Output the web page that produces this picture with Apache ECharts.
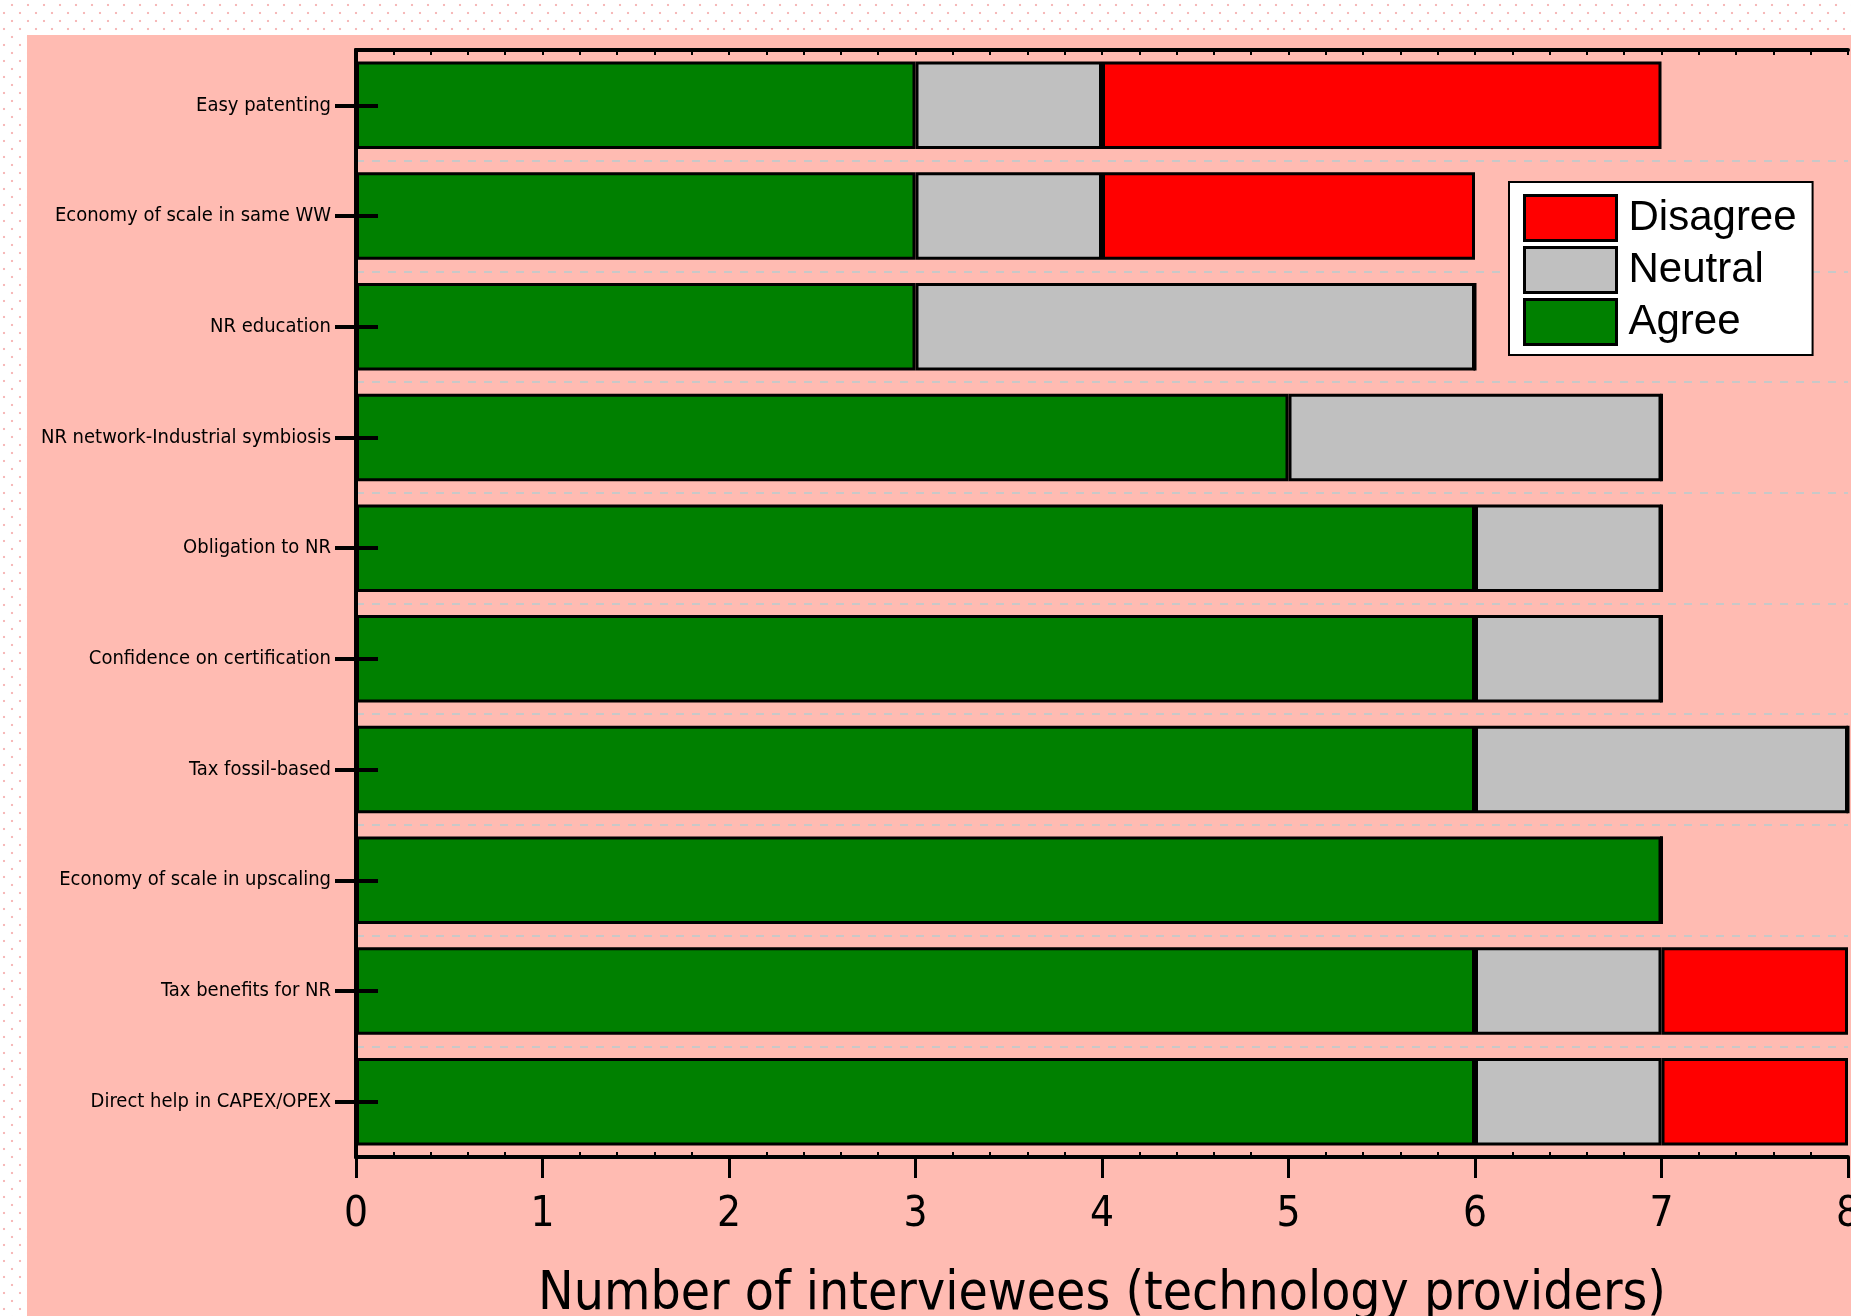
<!DOCTYPE html>
<html>
<head>
<meta charset="utf-8">
<title>Interviewees chart</title>
<script src="https://cdn.jsdelivr.net/npm/echarts@6/dist/echarts.min.js"></script>
<style>
    html, body {
        margin: 0;
        padding: 0;
        width: 1851px;
        height: 1316px;
        overflow: hidden;
        background-color: #ffffff;
        background-image: radial-gradient(circle, #f6b9b9 1px, transparent 1.6px),
                          radial-gradient(circle, #f6b9b9 1px, transparent 1.6px);
        background-size: 16px 16px, 16px 16px;
        background-position: -4px 5px, 4px 13px;
    }
    #chart {
        position: absolute;
        left: 27px;
        top: 35px;
        width: 1824px;
        height: 1281px;
        background: #ffbbb2;
    }
</style>
</head>
<body>
<div id="chart"></div>
<script>
    // categories, top to bottom
    var categories = [
        'Easy patenting',
        'Economy of scale in same WW',
        'NR education',
        'NR network-Industrial symbiosis',
        'Obligation to NR',
        'Confidence on certification',
        'Tax fossil-based',
        'Economy of scale in upscaling',
        'Tax benefits for NR',
        'Direct help in CAPEX/OPEX'
    ];
    var agree    = [3, 3, 3, 5, 6, 6, 6, 7, 6, 6];
    var neutral  = [1, 1, 3, 2, 1, 1, 2, 0, 1, 1];
    var disagree = [3, 2, 0, 0, 0, 0, 0, 0, 1, 1];
    var xTicks = ['0', '1', '2', '3', '4', '5', '6', '7', '8'];

    var narrow = '"DejaVu Sans Condensed", "Liberation Sans Narrow", sans-serif';
    var regular = '"Liberation Sans", Arial, sans-serif';

    var chart = echarts.init(document.getElementById('chart'));

    function barSeries(name, data, color) {
        return {
            name: name,
            type: 'bar',
            stack: 'total',
            barWidth: '79%',
            data: data,
            itemStyle: {
                color: color,
                borderColor: '#000',
                borderWidth: 3
            }
        };
    }

    var option = {
        animation: false,
        backgroundColor: 'transparent',
        grid: {
            left: 329,
            top: 15,
            right: 3,
            bottom: 159,
            containLabel: false,
            outerBoundsMode: 'none'
        },
        legend: {
            data: ['Disagree', 'Neutral', 'Agree'],
            orient: 'vertical',
            left: 1482,
            top: 147,
            z: 20,
            padding: [12, 16, 9, 14],
            itemWidth: 92,
            itemHeight: 45,
            itemGap: 4,
            icon: 'rect',
            selectedMode: false,
            backgroundColor: '#fff',
            borderColor: '#000',
            borderWidth: 2,
            itemStyle: {
                borderColor: '#000',
                borderWidth: 3
            },
            textStyle: {
                fontFamily: regular,
                fontSize: 42,
                lineHeight: 45,
                color: '#000',
                padding: [0, 0, 0, 7]
            }
        },
        xAxis: [
            {
                // main bottom axis with labels
                type: 'value',
                position: 'bottom',
                min: 0,
                max: 8,
                interval: 1,
                z: 10,
                axisLine: {show: true, lineStyle: {color: '#000', width: 4}},
                axisTick: {show: true, length: 21, lineStyle: {color: '#000', width: 3}},
                splitLine: {show: false},
                axisLabel: {
                    margin: 37,
                    fontFamily: narrow,
                    fontSize: 42,
                    color: '#000',
                    formatter: function (v) { return xTicks[v]; }
                },
                name: 'Number of interviewees (technology providers)',
                nameLocation: 'middle',
                nameGap: 112,
                nameTextStyle: {
                    fontFamily: narrow,
                    fontSize: 53,
                    color: '#000'
                }
            },
            {
                // inner minor ticks on bottom
                type: 'value',
                position: 'bottom',
                min: 0,
                max: 8,
                interval: 1,
                z: 10,
                axisLine: {show: false},
                axisTick: {show: false, inside: true},
                minorTick: {show: true, splitNumber: 5, length: 5, lineStyle: {color: '#000', width: 2}},
                axisLabel: {show: false},
                splitLine: {show: false}
            },
            {
                // top frame
                type: 'value',
                position: 'top',
                min: 0,
                max: 8,
                interval: 1,
                z: 10,
                axisLine: {show: true, lineStyle: {color: '#000', width: 4}},
                axisTick: {show: true, inside: true, length: 5, lineStyle: {color: '#000', width: 2}},
                minorTick: {show: true, splitNumber: 5, length: 5, lineStyle: {color: '#000', width: 2}},
                axisLabel: {show: false},
                splitLine: {show: false}
            }
        ],
        yAxis: [
            {
                type: 'category',
                position: 'left',
                inverse: true,
                data: categories,
                z: 10,
                axisLine: {show: true, lineStyle: {color: '#000', width: 4}},
                axisTick: {show: true, alignWithLabel: true, length: 21, lineStyle: {color: '#000', width: 4}},
                axisLabel: {
                    margin: 25,
                    fontFamily: narrow,
                    fontSize: 20,
                    color: '#000'
                },
                splitLine: {
                    show: true,
                    lineStyle: {color: '#c8c8c8', width: 2, type: [8, 8]}
                }
            },
            {
                // inner half of the category ticks
                type: 'category',
                position: 'left',
                inverse: true,
                data: categories,
                z: 10,
                axisLine: {show: false},
                axisTick: {show: true, inside: true, alignWithLabel: true, length: 22, lineStyle: {color: '#000', width: 4}},
                axisLabel: {show: false},
                splitLine: {show: false}
            },
            {
                // right frame
                type: 'category',
                position: 'right',
                inverse: true,
                data: categories,
                z: 10,
                axisLine: {show: true, lineStyle: {color: '#000', width: 4}},
                axisTick: {show: false},
                axisLabel: {show: false},
                splitLine: {show: false}
            }
        ],
        series: [
            barSeries('Agree', agree, '#008000'),
            barSeries('Neutral', neutral, '#c0c0c0'),
            barSeries('Disagree', disagree, '#ff0000')
        ]
    };

    chart.setOption(option);
</script>
</body>
</html>
